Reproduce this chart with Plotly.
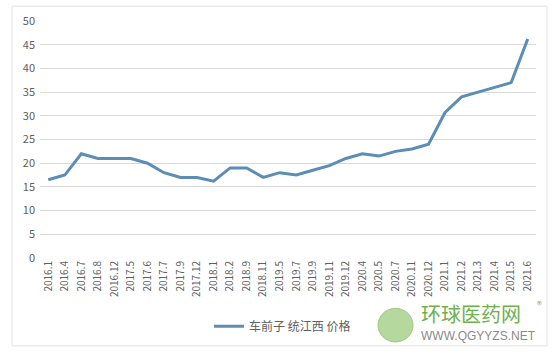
import plotly.graph_objects as go

categories = ["2016.1", "2016.4", "2016.7", "2016.8", "2016.12", "2017.5", "2017.6", "2017.7",
              "2017.9", "2017.12", "2018.1", "2018.2", "2018.9", "2018.11", "2019.5", "2019.7",
              "2019.9", "2019.11", "2019.12", "2020.4", "2020.5", "2020.7", "2020.11", "2020.12",
              "2021.1", "2021.2", "2021.3", "2021.4", "2021.5", "2021.6"]
prices = [16.5, 17.5, 22, 21, 21, 21, 20, 18, 17, 17, 16.2, 19, 19, 17, 18, 17.5,
          18.5, 19.5, 21, 22, 21.5, 22.5, 23, 24, 30.7, 34, 35, 36, 37, 46.2]
series_name = "车前子 统江西 价格"
y_ticks = [0, 5, 10, 15, 20, 25, 30, 35, 40, 45, 50]

font_family = "Microsoft YaHei, Noto Sans CJK SC, DejaVu Sans, sans-serif"

fig = go.Figure()
fig.add_trace(go.Scatter(
    x=categories, y=prices, mode="lines", name=series_name,
    line=dict(color="#5b8db5", width=3),
))

W, H = 552, 354
L, R, T, B = 40, 16, 18, 96
pw, ph = W - L - R, H - T - B


def px(x):
    return (x - L) / pw


def py(y):
    return (H - B - y) / ph


fig.update_layout(
    width=W, height=H,
    margin=dict(l=L, r=R, t=T, b=B),
    paper_bgcolor="white", plot_bgcolor="white",
    font=dict(family=font_family, color="#606060", size=11),
    showlegend=True,
    legend=dict(orientation="h", x=px(209), xanchor="left", y=py(327), yanchor="middle",
                font=dict(size=12, color="#606060"), bgcolor="rgba(0,0,0,0)",
                itemwidth=30),
    xaxis=dict(type="category", tickangle=-90, tickfont=dict(size=10, color="#606060"),
               showgrid=False, showline=False, ticks="", range=[-0.5, len(categories) - 0.5]),
    yaxis=dict(range=[0, 50], tickvals=y_ticks, showgrid=True, gridcolor="#d9d9d9",
               gridwidth=1, zeroline=False, showline=False, ticks="",
               tickfont=dict(size=11, color="#606060"), ticklabelstandoff=4),
    shapes=[
        dict(type="rect", xref="paper", yref="paper", x0=px(12), x1=px(547), y0=py(347), y1=py(3),
             line=dict(color="#e3e3e3", width=1), fillcolor="rgba(0,0,0,0)", layer="below"),
        dict(type="circle", xref="paper", yref="paper", x0=px(378), x1=px(413), y0=py(343), y1=py(309),
             line=dict(color="#8cc06c", width=1), fillcolor="#a9d28f", opacity=0.85),
    ],
    annotations=[
        dict(text="环球医药网", xref="paper", yref="paper", x=px(419), y=py(314), xanchor="left",
             yanchor="middle", showarrow=False,
             font=dict(size=20, color="#6fb04f", family="Noto Sans CJK SC")),
        dict(text="WWW.QGYYZS.NET", xref="paper", yref="paper", x=px(419), y=py(337), xanchor="left",
             yanchor="middle", showarrow=False,
             font=dict(size=12, color="#8a8a8a", family="Liberation Sans")),
        dict(text="®", xref="paper", yref="paper", x=px(539), y=py(305), xanchor="center",
             yanchor="middle", showarrow=False, font=dict(size=10, color="#9a9a9a")),
    ],
)

fig.write_html("out.html")
